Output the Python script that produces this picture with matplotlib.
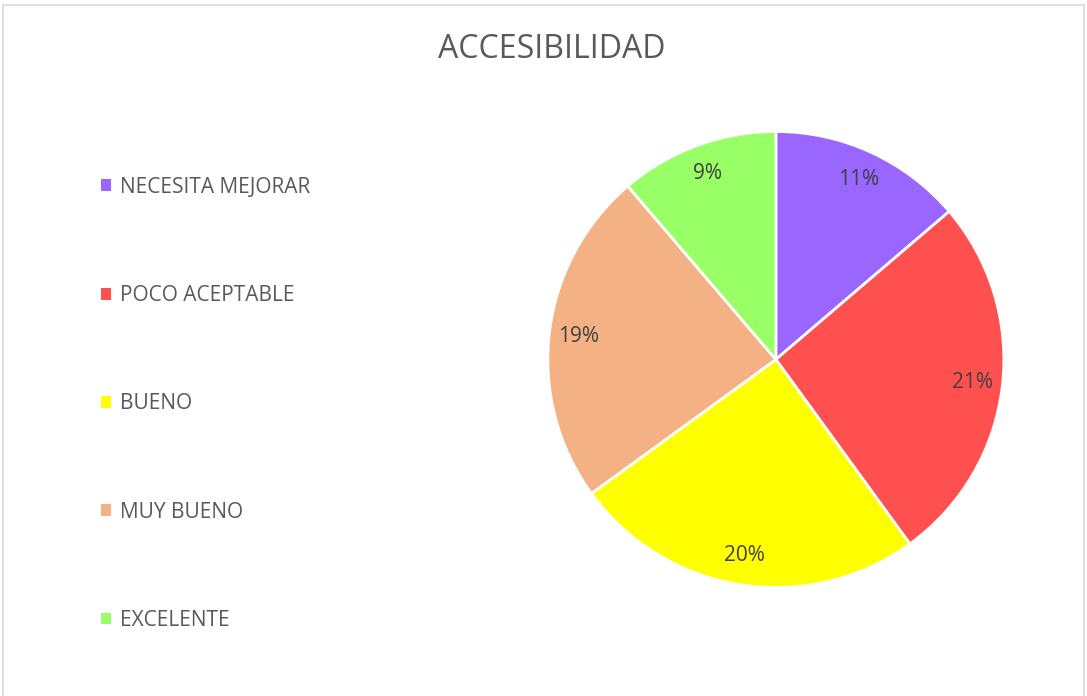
import numpy as np
import matplotlib.pyplot as plt
from matplotlib.patches import Patch, Rectangle

# data
categories = ['NECESITA MEJORAR', 'POCO ACEPTABLE', 'BUENO', 'MUY BUENO', 'EXCELENTE']
values = [11, 21, 20, 19, 9]
colors = ['#9966FF', '#FF5050', '#FFFF00', '#F4B183', '#99FF66']

plt.rcParams['font.family'] = ['Open Sans', 'DejaVu Sans']

fig = plt.figure(figsize=(10.87, 6.96), dpi=100)
fig.patch.set_facecolor('white')

# chart border
fig.patches.append(Rectangle((3 / 1087, -0.01), 1081 / 1087, 1 - 5 / 696 + 0.01,
                             transform=fig.transFigure, fill=False,
                             edgecolor='#D9D9D9', linewidth=1.2))

ax = fig.add_axes([0.504, 0.155, 0.4195, 0.657])
total = sum(values)
wedges, texts, autotexts = ax.pie(
    values, colors=colors, startangle=90, counterclock=False,
    autopct=lambda p: '{:.0f}%'.format(p * total / 100), pctdistance=0.87,
    wedgeprops=dict(edgecolor='white', linewidth=2),
    textprops=dict(color='#404040', fontsize=15))
ax.set_xlim(-1, 1)
ax.set_ylim(-1, 1)
ax.set_aspect('equal')

fig.text(0.508, 1 - 50 / 696, 'ACCESIBILIDAD', ha='center', va='center',
         fontsize=23, color='#595959')

handles = [Patch(facecolor=c, edgecolor='none') for c in colors]
fig.legend(handles, categories, loc='upper left', bbox_to_anchor=(0.0753, 1 - 158 / 696),
           frameon=False, fontsize=15, labelcolor='#595959',
           handlelength=0.5, handleheight=0.5, handletextpad=0.45,
           labelspacing=4.19)

fig.savefig('out.png', dpi=100)
